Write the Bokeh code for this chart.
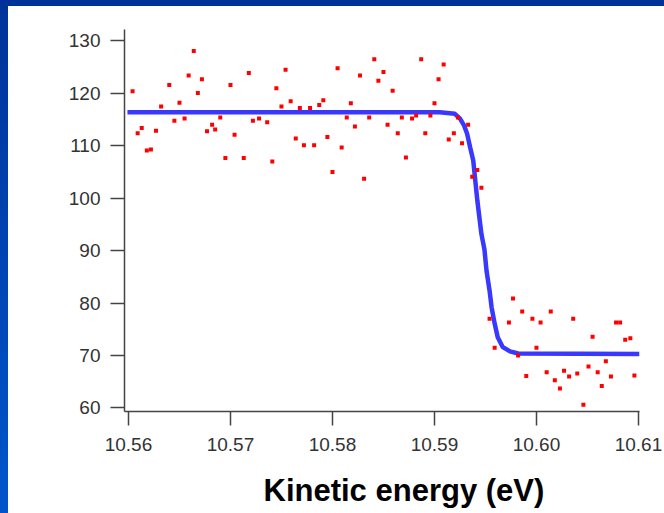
from bokeh.plotting import figure
from bokeh.models import FixedTicker, NumeralTickFormatter, Range1d, Title
from bokeh.layouts import column
from bokeh.embed import file_html
from bokeh.resources import INLINE

# measured points (kinetic energy in eV, counts)
energy = [10.5604, 10.5609, 10.5613, 10.5618, 10.5622, 10.5627, 10.5632, 10.5640,
          10.5645, 10.5650, 10.5655, 10.5659, 10.5664, 10.5668, 10.5672, 10.5677,
          10.5682, 10.5685, 10.5690, 10.5695, 10.5700, 10.5704, 10.5713, 10.5718,
          10.5722, 10.5728, 10.5736, 10.5741, 10.5745, 10.5750, 10.5754, 10.5759,
          10.5764, 10.5768, 10.5772, 10.5778, 10.5782, 10.5787, 10.5791, 10.5795,
          10.5800, 10.5805, 10.5809, 10.5814, 10.5818, 10.5822, 10.5827, 10.5831,
          10.5836, 10.5841, 10.5845, 10.5850, 10.5854, 10.5859, 10.5864, 10.5868,
          10.5872, 10.5878, 10.5882, 10.5887, 10.5891, 10.5896, 10.5900, 10.5904,
          10.5909, 10.5914, 10.5919, 10.5923, 10.5927, 10.5933, 10.5937, 10.5942,
          10.5946, 10.5954, 10.5959, 10.5973, 10.5977, 10.5982, 10.5986, 10.5990,
          10.5996, 10.6000, 10.6004, 10.6010, 10.6014, 10.6018, 10.6023, 10.6027,
          10.6032, 10.6036, 10.6040, 10.6046, 10.6051, 10.6055, 10.6060, 10.6064,
          10.6068, 10.6073, 10.6078, 10.6082, 10.6087, 10.6092, 10.6096]
counts = [120.4, 112.4, 113.4, 109.1, 109.3, 112.9, 117.5, 121.6,
          114.8, 118.2, 115.2, 123.4, 128.1, 120.1, 122.7, 112.8,
          114.0, 113.1, 115.4, 107.7, 121.6, 112.1, 107.7, 123.9,
          114.8, 115.2, 114.5, 107.0, 121.0, 117.5, 124.5, 118.5,
          111.4, 117.2, 110.1, 117.2, 110.1, 117.8, 118.7, 111.7,
          105.0, 124.8, 109.7, 115.4, 118.1, 113.7, 123.4, 103.7,
          115.4, 126.5, 122.4, 124.1, 114.0, 120.5, 112.4, 115.4,
          107.8, 115.2, 115.8, 126.5, 112.4, 115.8, 118.1, 122.7,
          125.5, 111.2, 112.4, 115.4, 110.5, 114.0, 104.1, 105.4,
          102.0, 77.0, 71.5, 76.3, 80.9, 70.0, 78.4, 66.1,
          77.0, 71.5, 76.3, 66.8, 78.4, 65.3, 63.7, 67.1,
          66.0, 77.0, 66.6, 60.6, 67.9, 73.6, 66.8, 64.2,
          68.9, 66.0, 76.3, 76.3, 73.0, 73.3, 66.2]

# fitted Fermi edge
fit_energy = [10.5599, 10.5905, 10.5920, 10.5925, 10.5929, 10.5932, 10.5935,
              10.5938, 10.5940, 10.5942, 10.5944, 10.5946, 10.5949, 10.5951,
              10.5954, 10.5956, 10.5959, 10.5962, 10.5967, 10.5974, 10.5982,
              10.6101]
fit_counts = [116.4, 116.4, 116.1, 115.2, 113.9, 112.3, 109.7,
              107.2, 103.4, 99.6, 96.4, 93.2, 90.2, 86.2,
              82.4, 79.2, 76.1, 73.5, 71.6, 70.8, 70.4,
              70.3]

x_ticks = [10.56, 10.57, 10.58, 10.59, 10.60, 10.61]
y_ticks = [60, 70, 80, 90, 100, 110, 120, 130]
x_label = "Kinetic energy (eV)"

p = figure(width=656, height=507, output_backend="svg", toolbar_location=None,
           x_range=Range1d(10.55961, 10.6101), y_range=Range1d(59.33, 132.19),
           min_border_left=116, min_border_right=25, min_border_top=23,
           min_border_bottom=102)
p.border_fill_color = "white"
p.background_fill_color = "white"
p.outline_line_color = None
p.xgrid.visible = False
p.ygrid.visible = False
p.styles = {"background-color": "white"}

p.line(fit_energy, fit_counts, line_color="#3838ff", line_width=4.5)
p.scatter(energy, counts, marker="square", size=4, fill_color="#ff0000",
          line_color=None)

for ax in (p.xaxis[0], p.yaxis[0]):
    ax.axis_line_color = "#444444"
    ax.axis_line_width = 1.5
    ax.major_tick_line_color = "#444444"
    ax.major_tick_line_width = 1.5
    ax.major_tick_out = 14
    ax.major_tick_in = 0
    ax.minor_tick_out = 0
    ax.minor_tick_in = 0
    ax.major_label_text_font = "Liberation Sans"
    ax.major_label_text_font_size = "19px"
    ax.major_label_text_color = "#333333"

p.xaxis.ticker = FixedTicker(ticks=x_ticks)
p.xaxis.formatter = NumeralTickFormatter(format="0.00")
p.xaxis.major_label_standoff = 12
p.yaxis.ticker = FixedTicker(ticks=y_ticks)
p.yaxis.major_label_standoff = 10

title = Title(text=x_label, align="left", offset=139, vertical_align="top",
              standoff=0, padding=dict(top=19, bottom=0, left=0, right=0),
              text_font="Liberation Sans", text_font_style="bold",
              text_font_size="31px", text_color="black")
p.add_layout(title, "below")

layout = column(p, styles={"background": "linear-gradient(to bottom, #003399, #0055cc)",
                           "padding": "6px 0px 0px 8px"})

open("out.html", "w").write(file_html(layout, INLINE))
